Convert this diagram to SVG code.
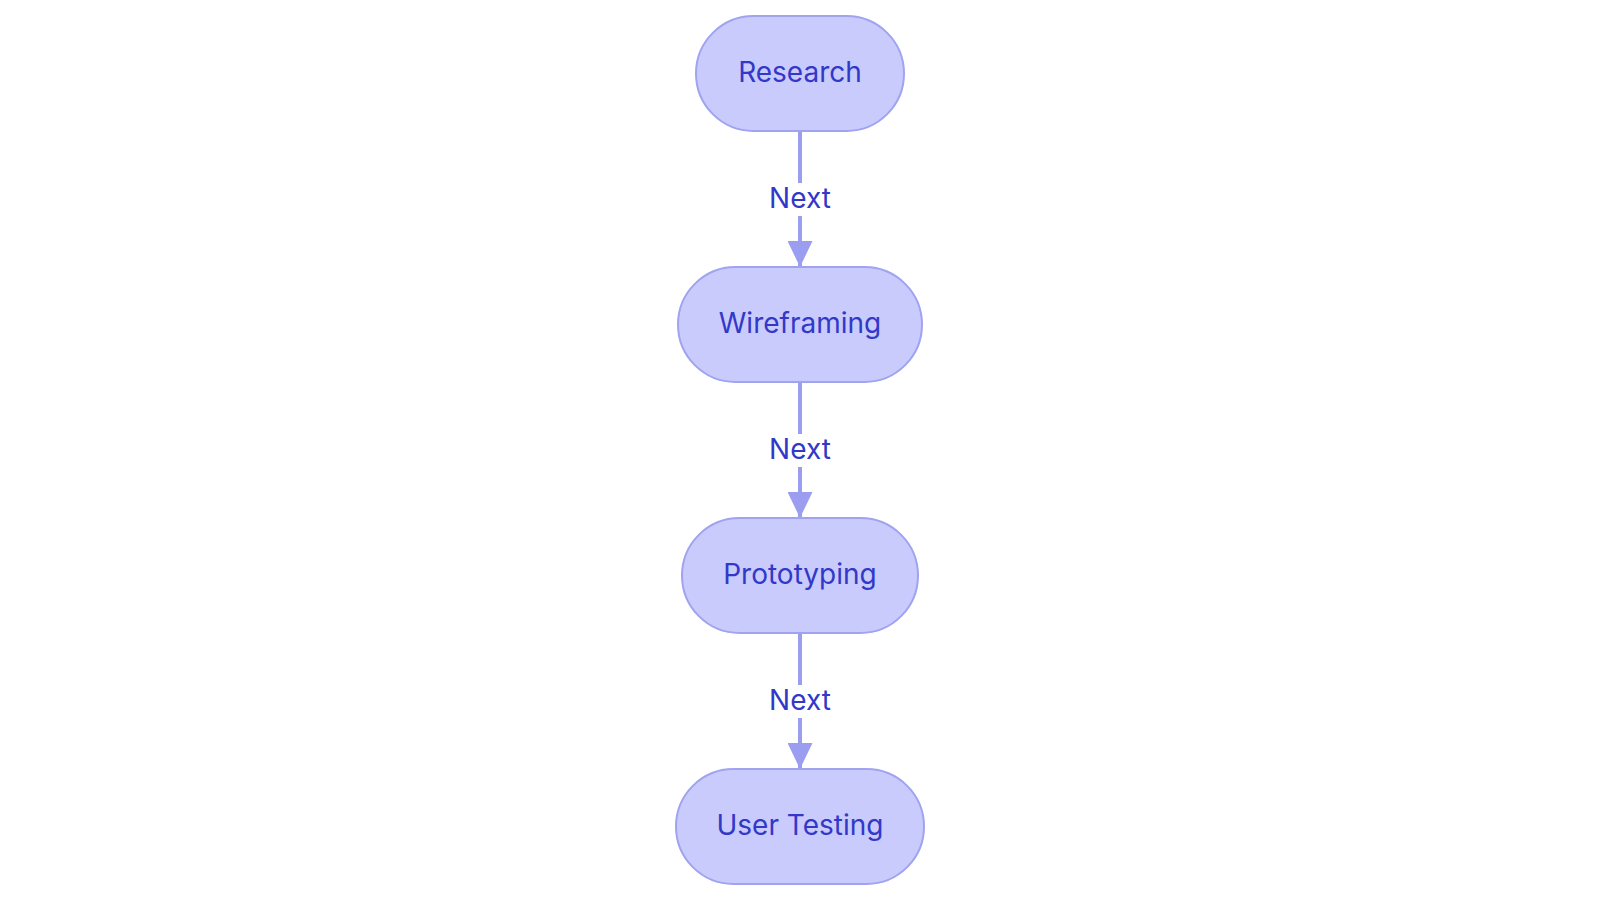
<svg xmlns="http://www.w3.org/2000/svg" width="1600" height="903" viewBox="0 0 1600 903">
<defs>
<marker id="arrow" viewBox="0 0 26 25" refX="26" refY="12.5" markerWidth="26" markerHeight="25" markerUnits="userSpaceOnUse" orient="auto">
<path d="M0,0 L26,12.5 L0,25 Z" fill="#9b9ef0"/>
</marker>
</defs>
<style>
.node rect{fill:#c9cbfd;stroke:#9fa3f0;stroke-width:2}
.label{font-family:Inter,"Noto Sans",sans-serif;font-size:28px;fill:#3238c8;text-anchor:middle;dominant-baseline:central}
.edge{stroke:#9b9ef0;stroke-width:4;fill:none}
.elabel rect{fill:#ffffff}
</style>
<rect width="1600" height="903" fill="#ffffff"/>
<g id="connectors">
<path class="edge" d="M800,131 L800,267" marker-end="url(#arrow)"/>
<path class="edge" d="M800,382 L800,518" marker-end="url(#arrow)"/>
<path class="edge" d="M800,633 L800,769" marker-end="url(#arrow)"/>
<g class="elabel"><rect x="766" y="183" width="68" height="33"/><text class="label" x="800" y="198">Next</text></g>
<g class="elabel"><rect x="766" y="434" width="68" height="33"/><text class="label" x="800" y="449">Next</text></g>
<g class="elabel"><rect x="766" y="685" width="68" height="33"/><text class="label" x="800" y="700">Next</text></g>
</g>
<g id="research" class="node"><rect x="696" y="16" width="208" height="115" rx="57.5"/><text class="label" x="800" y="72">Research</text></g>
<g id="wireframing" class="node"><rect x="678" y="267" width="244" height="115" rx="57.5"/><text class="label" x="800" y="323">Wireframing</text></g>
<g id="prototyping" class="node"><rect x="682" y="518" width="236" height="115" rx="57.5"/><text class="label" x="800" y="574">Prototyping</text></g>
<g id="usertesting" class="node"><rect x="676" y="769" width="248" height="115" rx="57.5"/><text class="label" x="800" y="825">User Testing</text></g>
</svg>
